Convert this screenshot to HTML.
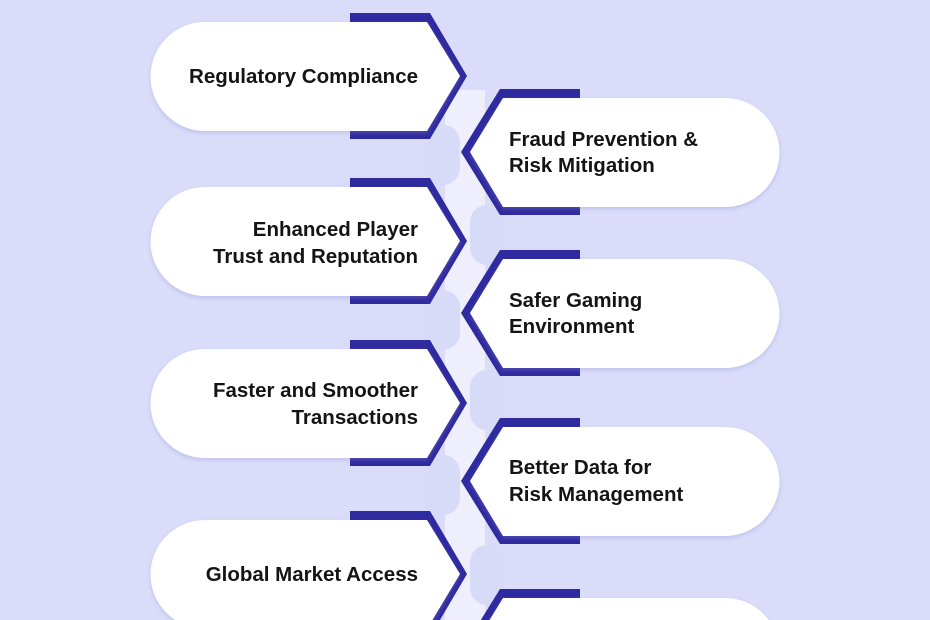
<!DOCTYPE html>
<html><head><meta charset="utf-8"><style>
html,body{margin:0;padding:0;background:#dadcfa;width:930px;height:620px;overflow:hidden;}
svg{display:block}
text{font-family:"Liberation Sans",sans-serif;font-size:20.5px;font-weight:bold;fill:#141414;}
</style></head><body>
<svg width="930" height="620" viewBox="0 0 930 620" xmlns="http://www.w3.org/2000/svg">
<defs><filter id="sh" x="-10%" y="-10%" width="120%" height="130%"><feDropShadow dx="0" dy="2" stdDeviation="2" flood-color="#8a8ccc" flood-opacity="0.35"/></filter></defs>
<rect width="930" height="620" fill="#dadcfa"/>
<rect x="445" y="90" width="40" height="530" fill="#efeefd"/>
<g fill="#d8dbf8">
<rect x="425" y="125" width="35" height="60" rx="17"/>
<rect x="470" y="205" width="35" height="60" rx="17"/>
<rect x="425" y="290" width="35" height="60" rx="17"/>
<rect x="470" y="370" width="35" height="60" rx="17"/>
<rect x="425" y="455" width="35" height="60" rx="17"/>
<rect x="470" y="545" width="35" height="60" rx="17"/>
</g>
<g fill="#2e2a9f">
<polygon points="350,13 430,13 467,76 430,139 350,139"/>
<polygon points="350,178 430,178 467,241 430,304 350,304"/>
<polygon points="350,340 430,340 467,403 430,466 350,466"/>
<polygon points="350,511 430,511 467,574 430,637 350,637"/>
<polygon points="580,89 500,89 461,152 500,215 580,215"/>
<polygon points="580,250 500,250 461,313 500,376 580,376"/>
<polygon points="580,418 500,418 461,481 500,544 580,544"/>
<polygon points="580,589 500,589 461,652 500,715 580,715"/>
</g>
<g fill="#fff" filter="url(#sh)">
<path d="M205,22 H427 L460,76 L427,131 H205 A54.5,54.5 0 0 1 205,22Z"/>
<path d="M205,187 H427 L460,241 L427,296 H205 A54.5,54.5 0 0 1 205,187Z"/>
<path d="M205,349 H427 L460,403 L427,458 H205 A54.5,54.5 0 0 1 205,349Z"/>
<path d="M205,520 H427 L460,574 L427,629 H205 A54.5,54.5 0 0 1 205,520Z"/>
<path d="M725,98 H503 L470,152 L503,207 H725 A54.5,54.5 0 0 0 725,98Z"/>
<path d="M725,259 H503 L470,313 L503,368 H725 A54.5,54.5 0 0 0 725,259Z"/>
<path d="M725,427 H503 L470,481 L503,536 H725 A54.5,54.5 0 0 0 725,427Z"/>
<path d="M725,598 H503 L470,652 L503,707 H725 A54.5,54.5 0 0 0 725,598Z"/>
</g>
<g text-anchor="end">
<text x="418" y="83">Regulatory Compliance</text>
<text x="418" y="236">Enhanced Player</text>
<text x="418" y="263">Trust and Reputation</text>
<text x="418" y="397">Faster and Smoother</text>
<text x="418" y="424">Transactions</text>
<text x="418" y="581">Global Market Access</text>
</g>
<g>
<text x="509" y="146">Fraud Prevention &amp;</text>
<text x="509" y="172">Risk Mitigation</text>
<text x="509" y="307">Safer Gaming</text>
<text x="509" y="333">Environment</text>
<text x="509" y="474">Better Data for</text>
<text x="509" y="501">Risk Management</text>
</g>
</svg>
</body></html>
